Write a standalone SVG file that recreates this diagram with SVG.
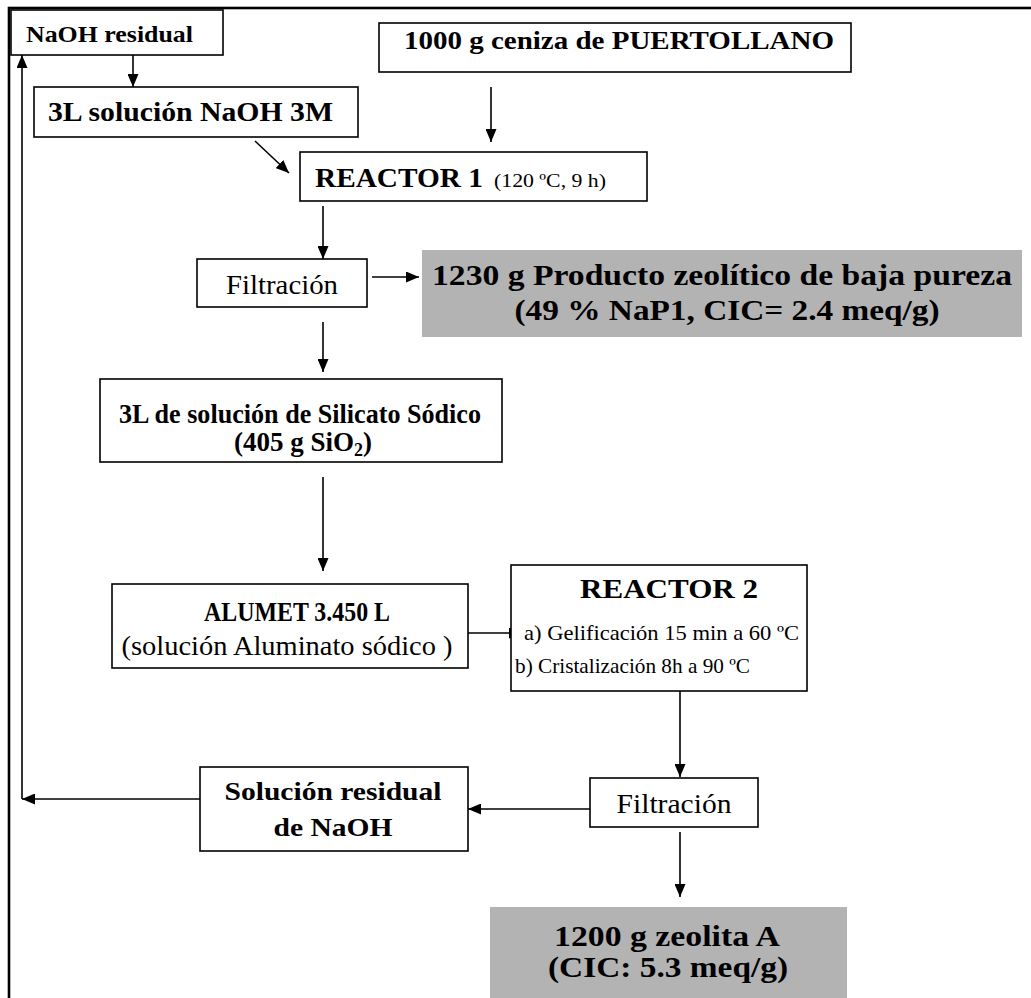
<svg xmlns="http://www.w3.org/2000/svg" width="1031" height="998" viewBox="0 0 1031 998">
<style>
.box{fill:#fff;stroke:#000;stroke-width:1.6}
.grey{fill:#b3b3b3;stroke:none}
.b{font-family:"Liberation Serif","Times New Roman",serif;font-weight:bold;fill:#000}
.r{font-family:"Liberation Serif","Times New Roman",serif;font-weight:normal;fill:#000}
.c{stroke:#000;stroke-width:1.6;fill:none;marker-end:url(#ah)}
</style>
<defs>
<marker id="ah" markerUnits="userSpaceOnUse" markerWidth="13" markerHeight="11" refX="13" refY="5.5" orient="auto">
<path d="M0,0 L13,5.5 L0,11 z" fill="#000"/>
</marker>
</defs>
<rect x="9" y="8" width="1060" height="1010" fill="none" stroke="#000" stroke-width="2.6"/>
<g id="connectors">
<line class="c" x1="133" y1="55" x2="133" y2="87"/>
<line class="c" x1="491" y1="87" x2="491" y2="142"/>
<line class="c" x1="255" y1="141" x2="289" y2="173"/>
<line class="c" x1="323" y1="206" x2="323" y2="259"/>
<line class="c" x1="372" y1="277" x2="419" y2="277"/>
<line class="c" x1="323" y1="322" x2="323" y2="372"/>
<line class="c" x1="323" y1="477" x2="323" y2="571"/>
<line class="c" x1="468" y1="633" x2="522" y2="633"/>
<line class="c" x1="680" y1="691" x2="680" y2="777"/>
<line class="c" x1="590" y1="809" x2="468" y2="809"/>
<line class="c" x1="680" y1="832" x2="680" y2="897"/>
<line class="c" x1="200" y1="799" x2="22" y2="799"/>
<line class="c" x1="22" y1="799" x2="22" y2="55"/>
</g>
<g id="naoh_residual">
<rect class="box" x="11" y="10" width="212" height="45"/>
<text class="b" x="26" y="42" font-size="23" textLength="167" lengthAdjust="spacingAndGlyphs">NaOH residual</text>
</g>
<g id="solucion_naoh">
<rect class="box" x="34" y="87" width="324" height="50"/>
<text class="b" x="48" y="121" font-size="27" textLength="285" lengthAdjust="spacingAndGlyphs">3L solución NaOH 3M</text>
</g>
<g id="ceniza">
<rect class="box" x="379" y="23" width="472" height="49"/>
<text class="b" x="404" y="49" font-size="26" textLength="430" lengthAdjust="spacingAndGlyphs">1000 g ceniza de PUERTOLLANO</text>
</g>
<g id="reactor1">
<rect class="box" x="300" y="152" width="347" height="49"/>
<text class="b" x="315" y="187" font-size="27" textLength="168" lengthAdjust="spacingAndGlyphs">REACTOR 1</text>
<text class="r" x="494" y="187" font-size="19" textLength="112" lengthAdjust="spacingAndGlyphs">(120 ºC, 9 h)</text>
</g>
<g id="filtracion1">
<rect class="box" x="197" y="259" width="170" height="48"/>
<text class="r" x="282" y="294" font-size="27" text-anchor="middle" textLength="112" lengthAdjust="spacingAndGlyphs">Filtración</text>
</g>
<g id="producto_zeolitico">
<rect class="grey" x="422" y="250" width="600" height="87"/>
<text class="b" x="722" y="285" font-size="30" text-anchor="middle" textLength="580" lengthAdjust="spacingAndGlyphs">1230 g Producto zeolítico de baja pureza</text>
<text class="b" x="727" y="320" font-size="30" text-anchor="middle" textLength="425" lengthAdjust="spacingAndGlyphs">(49 % NaP1, CIC= 2.4 meq/g)</text>
</g>
<g id="silicato">
<rect class="box" x="100" y="379" width="402" height="83"/>
<text class="b" x="300" y="423" font-size="27" text-anchor="middle" textLength="362" lengthAdjust="spacingAndGlyphs">3L de solución de Silicato Sódico</text>
<text class="b" x="303" y="451" font-size="27" text-anchor="middle">(405 g SiO<tspan font-size="18" dy="5">2</tspan><tspan dy="-5">)</tspan></text>
</g>
<g id="alumet">
<rect class="box" x="112" y="584" width="356" height="84"/>
<text class="b" x="297" y="621" font-size="28" text-anchor="middle" textLength="186" lengthAdjust="spacingAndGlyphs">ALUMET 3.450 L</text>
<text class="r" x="287" y="655" font-size="27" text-anchor="middle" textLength="331" lengthAdjust="spacingAndGlyphs">(solución Aluminato sódico )</text>
</g>
<g id="reactor2">
<rect class="box" x="511" y="565" width="296" height="126"/>
<text class="b" x="669" y="598" font-size="28" text-anchor="middle" textLength="178" lengthAdjust="spacingAndGlyphs">REACTOR 2</text>
<text class="r" x="524" y="640" font-size="21" textLength="275" lengthAdjust="spacingAndGlyphs">a) Gelificación 15 min a 60 ºC</text>
<text class="r" x="515" y="673" font-size="21" textLength="235" lengthAdjust="spacingAndGlyphs">b) Cristalización 8h a 90 ºC</text>
</g>
<g id="filtracion2">
<rect class="box" x="590" y="778" width="168" height="49"/>
<text class="r" x="674" y="813" font-size="27" text-anchor="middle" textLength="115" lengthAdjust="spacingAndGlyphs">Filtración</text>
</g>
<g id="solucion_residual">
<rect class="box" x="200" y="767" width="268" height="84"/>
<text class="b" x="333" y="800" font-size="26" text-anchor="middle" textLength="217" lengthAdjust="spacingAndGlyphs">Solución residual</text>
<text class="b" x="333" y="836" font-size="26" text-anchor="middle" textLength="119" lengthAdjust="spacingAndGlyphs">de NaOH</text>
</g>
<g id="zeolita_a">
<rect class="grey" x="490" y="907" width="357" height="100"/>
<text class="b" x="667" y="946" font-size="29" text-anchor="middle" textLength="226" lengthAdjust="spacingAndGlyphs">1200 g zeolita A</text>
<text class="b" x="668" y="977" font-size="29" text-anchor="middle" textLength="240" lengthAdjust="spacingAndGlyphs">(CIC: 5.3 meq/g)</text>
</g>
</svg>
